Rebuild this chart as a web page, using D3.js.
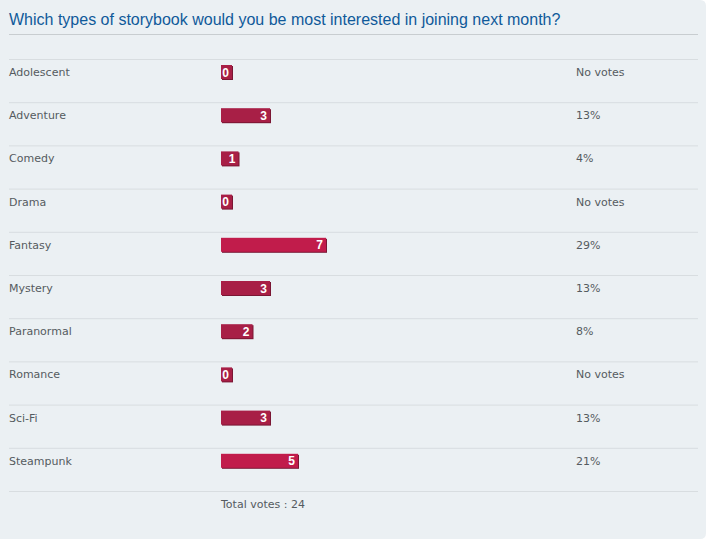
<!DOCTYPE html>
<html>
<head>
<meta charset="utf-8">
<script src="https://d3js.org/d3.v7.min.js"></script>
<style>
body { margin: 0; background: #ffffff; }
svg { display: block; }
</style>
</head>
<body>
<svg width="708" height="539"></svg>
<script>
// poll results
const categories = ["Adolescent", "Adventure", "Comedy", "Drama", "Fantasy",
                    "Mystery", "Paranormal", "Romance", "Sci-Fi", "Steampunk"];
const votes = [0, 3, 1, 0, 7, 3, 2, 0, 3, 5];
const percentLabels = ["No votes", "13%", "4%", "No votes", "29%",
                       "13%", "8%", "No votes", "13%", "21%"];
const percents = [0, 13, 4, 0, 29, 13, 8, 0, 13, 21];
const title = "Which types of storybook would you be most interested in joining next month?";
const totalVotes = 24;

const svg = d3.select("svg");
const W = 708, H = 539;

// panel background with rounded right corners
svg.append("path")
  .attr("d", `M0,0 H${W-8} Q${W-2},0 ${W-2},6 V${H-6} Q${W-2},${H} ${W-8},${H} H0 Z`)
  .attr("fill", "#ebf0f3");

svg.append("text")
  .attr("x", 9)
  .attr("y", 25)
  .style("font-family", "'Liberation Sans', Arial, sans-serif")
  .style("font-size", "16px")
  .style("fill", "#105a9a")
  .text(title);

svg.append("line")
  .attr("x1", 9).attr("x2", 698)
  .attr("y1", 34.5).attr("y2", 34.5)
  .attr("stroke", "#c8cdd0");

const y = d3.scaleBand()
  .domain(categories)
  .range([59, 491]);

const x = d3.scaleLinear()
  .domain([0, 100])
  .range([0, 350]);

const color = d3.scaleThreshold()
  .domain([5])
  .range(["#a81f46", "#c11c4b"]);

const rows = svg.append("g")
  .selectAll("g")
  .data(categories)
  .enter()
  .append("g")
  .attr("transform", d => `translate(0,${y(d)})`);

rows.append("line")
  .attr("x1", 9).attr("x2", 698)
  .attr("y1", 0.5).attr("y2", 0.5)
  .attr("stroke", "#d8dde0");

const labelFont = "'DejaVu Sans', Verdana, sans-serif";

rows.append("text")
  .attr("x", 9)
  .attr("y", 17)
  .style("font-family", labelFont)
  .style("font-size", "11px")
  .style("fill", "#555b60")
  .text(d => d);

const barW = i => Math.max(x(percents[i]) + 3.5, 11);

rows.append("rect")
  .attr("x", 222)
  .attr("y", 7)
  .attr("width", (d, i) => barW(i))
  .attr("height", 14)
  .attr("fill", "#7a1633");

rows.append("rect")
  .attr("x", 221)
  .attr("y", 6)
  .attr("width", (d, i) => barW(i))
  .attr("height", 14)
  .attr("fill", (d, i) => color(votes[i]));

rows.append("text")
  .attr("x", (d, i) => 221 + barW(i) - 3)
  .attr("y", 17.5)
  .attr("text-anchor", "end")
  .style("font-family", "'Liberation Sans', Arial, sans-serif")
  .style("font-weight", "bold")
  .style("font-size", "12px")
  .style("fill", "#ffffff")
  .text((d, i) => votes[i]);

rows.append("text")
  .attr("x", 576)
  .attr("y", 17)
  .style("font-family", labelFont)
  .style("font-size", "11px")
  .style("fill", "#555b60")
  .text((d, i) => percentLabels[i]);

svg.append("line")
  .attr("x1", 9).attr("x2", 698)
  .attr("y1", 491.5).attr("y2", 491.5)
  .attr("stroke", "#d8dde0");

svg.append("text")
  .attr("x", 221)
  .attr("y", 508)
  .style("font-family", labelFont)
  .style("font-size", "11px")
  .style("fill", "#555b60")
  .text("Total votes : " + totalVotes);
</script>
</body>
</html>
